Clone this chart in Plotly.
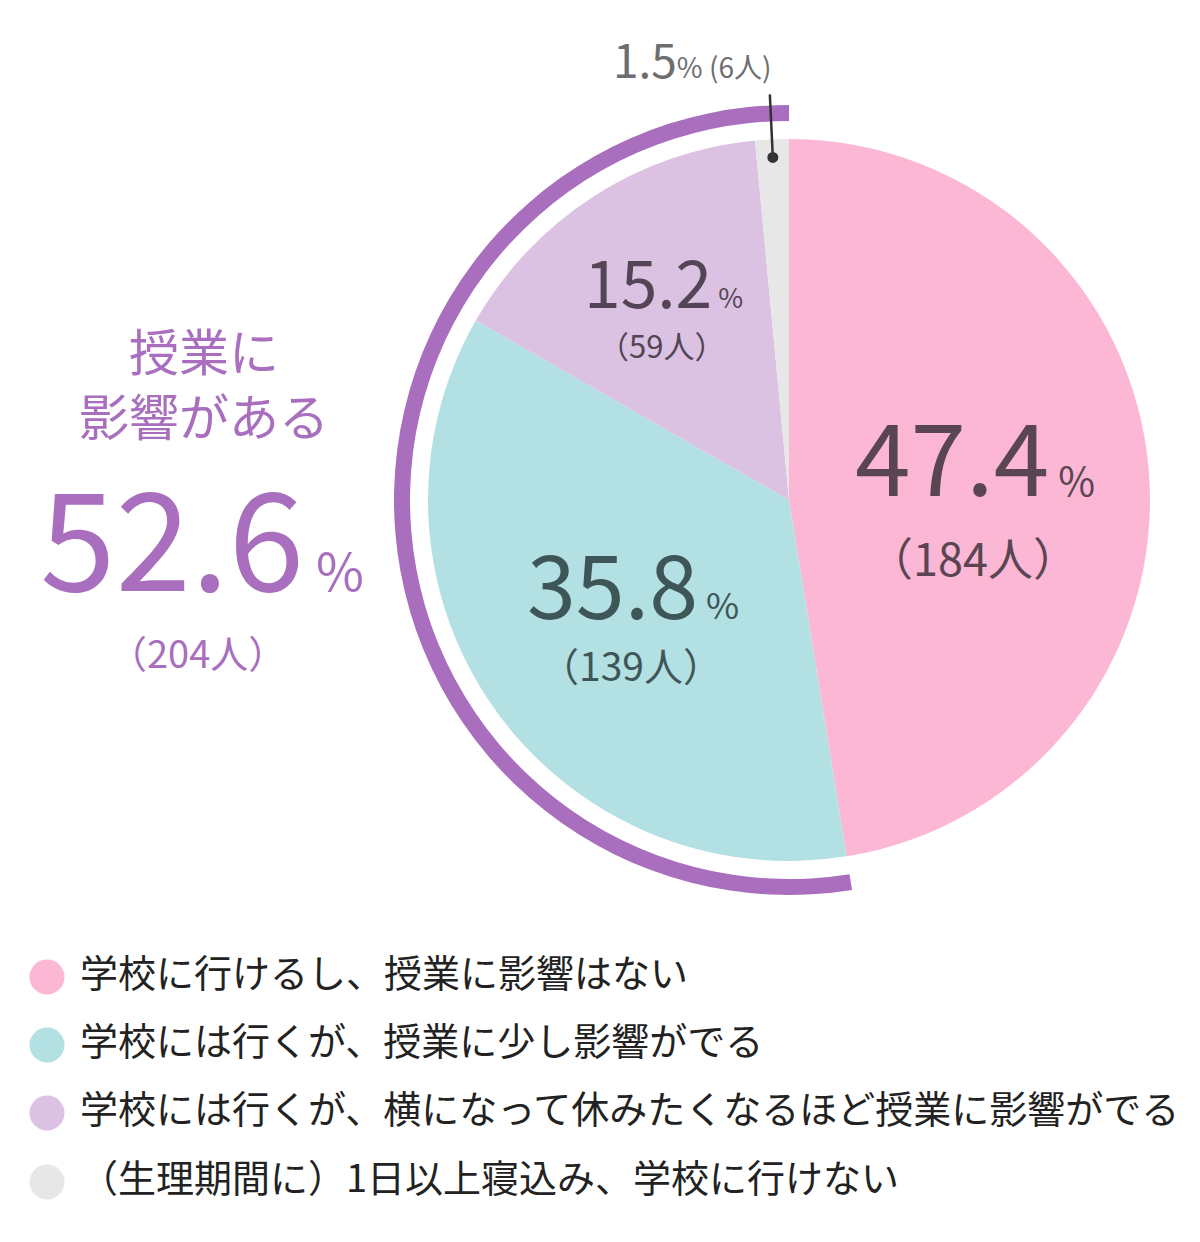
import numpy as np
import plotly.graph_objects as go

# ---- data ----
categories = [
    "学校に行けるし、授業に影響はない",
    "学校には行くが、授業に少し影響がでる",
    "学校には行くが、横になって休みたくなるほど授業に影響がでる",
    "（生理期間に）1日以上寝込み、学校に行けない",
]
percents = [47.4, 35.8, 15.2, 1.5]
counts = [184, 139, 59, 6]
impact_label = "授業に<br>影響がある"
impact_percent = 52.6
impact_count = 204

colors = ["#FBB7D4", "#B3E0E2", "#DBC2E2", "#E7E7E7"]
label_colors = ["#5A4552", "#3F5658", "#534555", "#6E6E6E"]
purple = "#A96FBE"

W, H = 1200, 1242
FONT = "Noto Sans CJK JP"

# pie geometry (pixels)
cx, cy, r = 789, 500, 361
ring_out, ring_in = 395, 379


def dom(rad):
    return dict(x=[(cx - rad) / W, (cx + rad) / W],
                y=[(H - cy - rad) / H, (H - cy + rad) / H])


fig = go.Figure()

fig.add_trace(go.Pie(
    values=percents, labels=categories, marker=dict(colors=colors, line=dict(width=0)),
    sort=False, direction="clockwise", rotation=0, textinfo="none",
    hoverinfo="skip", showlegend=False, domain=dom(r)))

impact_vals = [percents[0], sum(percents[1:])]
fig.add_trace(go.Pie(
    values=impact_vals, labels=["a", "b"],
    marker=dict(colors=["rgba(0,0,0,0)", purple], line=dict(width=0)),
    sort=False, direction="clockwise", rotation=0, textinfo="none",
    hoverinfo="skip", showlegend=False, hole=ring_in / ring_out, domain=dom(ring_out)))

# leader line for the smallest slice (drawn above the pies as shapes)
total = sum(percents)
mid_frac = (sum(percents[:3]) + percents[3] / 2) / total
theta = 2 * np.pi * mid_frac
r1, r2 = 0.95 * r, 1.125 * r
x1, y1 = cx + r1 * np.sin(theta), cy - r1 * np.cos(theta)
x2, y2 = cx + r2 * np.sin(theta), cy - r2 * np.cos(theta)
dot = 5.5
shapes = [
    dict(type="line", x0=x1, y0=y1, x1=x2, y1=y2, xref="x", yref="y",
         line=dict(color="#333333", width=2.5), layer="above"),
    dict(type="circle", x0=x1 - dot, x1=x1 + dot, y0=y1 - dot, y1=y1 + dot,
         xref="x", yref="y", fillcolor="#333333", line=dict(width=0), layer="above"),
]

# legend (custom)
leg_y = [977, 1045, 1113, 1182]
fig.add_trace(go.Scatter(x=[47] * 4, y=leg_y, mode="markers",
                         marker=dict(color=colors, size=35),
                         hoverinfo="skip", showlegend=False))
fig.add_trace(go.Scatter(x=[80] * 4, y=leg_y, mode="text", text=categories,
                         textposition="middle right",
                         textfont=dict(family=FONT, size=38, color="#222222"),
                         hoverinfo="skip", showlegend=False))

ann = []


def pct_text(p, big, small):
    return (f"<span style='font-size:{big}px'>{p}</span>"
            f"<span style='font-size:{small}px'> %</span>")


# slice labels
specs = [
    (0, 975, 452, 100, 40, 973, 556, 45),
    (1, 633, 580, 88, 36, 631, 664, 39),
    (2, 663, 279, 66, 27, 661, 344, 31),
]
for i, x, y, big, small, xc, yc, cs in specs:
    ann.append(dict(x=x, y=y, text=pct_text(percents[i], big, small),
                    font=dict(family=FONT, color=label_colors[i]),
                    showarrow=False, xref="x", yref="y", yanchor="middle"))
    ann.append(dict(x=xc, y=yc, text=f"（{counts[i]}人）",
                    font=dict(family=FONT, size=cs, color=label_colors[i]),
                    showarrow=False, xref="x", yref="y", yanchor="middle"))

ann.append(dict(x=692, y=58,
                text=(f"<span style='font-size:46px'>{percents[3]}</span>"
                      f"<span style='font-size:28px'>% ({counts[3]}人)</span>"),
                font=dict(family=FONT, color=label_colors[3]),
                showarrow=False, xref="x", yref="y", yanchor="middle"))

# impact summary
ann.append(dict(x=204, y=381, text=impact_label,
                font=dict(family=FONT, size=50, color=purple),
                showarrow=False, xref="x", yref="y", yanchor="middle"))
ann.append(dict(x=202, y=531, text=pct_text(impact_percent, 136, 52),
                font=dict(family=FONT, color=purple),
                showarrow=False, xref="x", yref="y", yanchor="middle"))
ann.append(dict(x=197, y=651, text=f"（{impact_count}人）",
                font=dict(family=FONT, size=38, color=purple),
                showarrow=False, xref="x", yref="y", yanchor="middle"))

fig.update_layout(
    width=W, height=H, margin=dict(l=0, r=0, t=0, b=0),
    paper_bgcolor="white", plot_bgcolor="rgba(0,0,0,0)",
    xaxis=dict(range=[0, W], visible=False, fixedrange=True),
    yaxis=dict(range=[H, 0], visible=False, fixedrange=True),
    annotations=ann, shapes=shapes, font=dict(family=FONT),
)

fig.write_html("out.html", config={"displayModeBar": False},
               post_script="document.body.style.margin='0px';")
